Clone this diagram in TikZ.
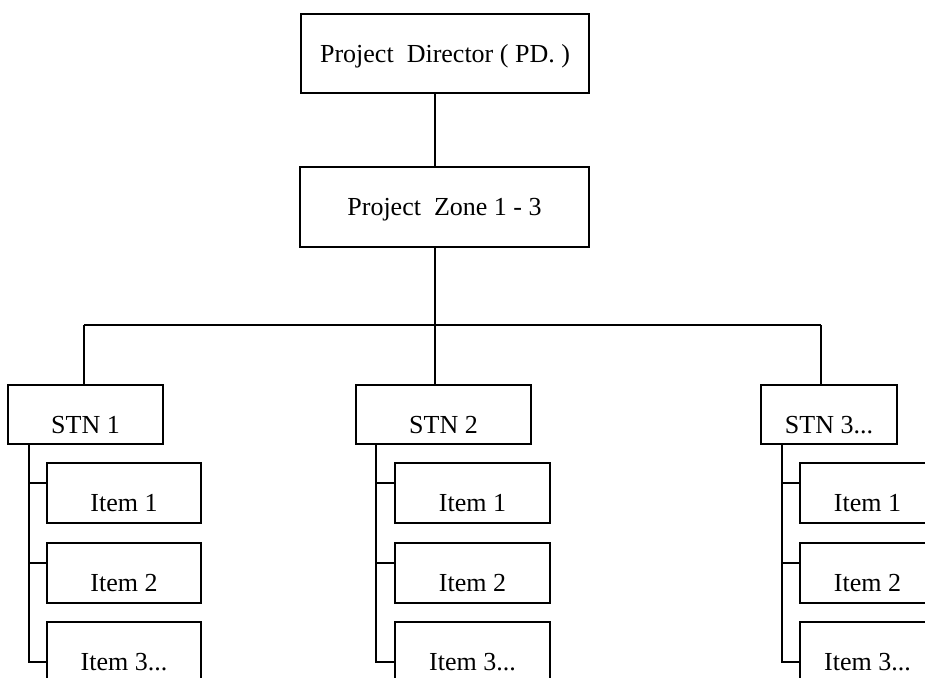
\documentclass[tikz,border=0pt]{standalone}
\usepackage{fontspec}
\setmainfont{Liberation Serif}
\begin{document}
\begin{tikzpicture}[x=1pt,y=-1pt,
  box/.style={draw, line width=2.2pt, rectangle, inner sep=0pt,
    font=\fontsize{26}{30}\selectfont},
  level/.style={box, text height=17.2pt, text depth=0pt},
  low/.style={box, text height=37.2pt, text depth=0pt},
  wire/.style={line width=2.2pt}]
\useasboundingbox (0,0) rectangle (925,677);

% top of the chart
\node[level, minimum width=288pt, minimum height=79pt] (pd) at (445,53.5) {Project\ \ Director ( PD. )};
\node[level, minimum width=289pt, minimum height=80pt] (zone) at (444.5,207) {Project\ \ Zone 1 - 3};

% stations
\node[low, minimum width=155pt, minimum height=59pt] (stn1) at (85.5,414.5) {STN 1};
\node[low, minimum width=175pt, minimum height=59pt] (stn2) at (443.5,414.5) {STN 2};
\node[low, minimum width=136pt, minimum height=59pt] (stn3) at (829,414.5) {STN 3...};

% distribution bus
\coordinate (trunk) at (435,325);
\coordinate (b1) at (84,325);
\coordinate (b3) at (821,325);
\draw[wire] (pd.south -| trunk) -- (zone.north -| trunk);
\draw[wire] (zone.south -| trunk) -- (trunk);
\draw[wire] (b1) -- (b3);
\draw[wire] (b1) -- (b1 |- stn1.north);
\draw[wire] (trunk) -- (trunk |- stn2.north);
\draw[wire] (b3) -- (b3 |- stn3.north);

% items under each station
\foreach \c/\sx/\ix/\iw in {1/29/124/154, 2/376/472.5/155, 3/782/867.5/135} {
  \node[low, minimum width=\iw pt, minimum height=60pt] (i\c a) at (\ix,493) {Item 1};
  \node[low, minimum width=\iw pt, minimum height=60pt] (i\c b) at (\ix,573) {Item 2};
  \node[low, minimum width=\iw pt, minimum height=60pt] (i\c c) at (\ix,652) {Item 3...};
  \coordinate (k\c a) at (\sx,483);
  \coordinate (k\c b) at (\sx,563);
  \coordinate (k\c c) at (\sx,662);
  \draw[wire] (stn\c.south -| k\c a) -- (k\c c) -- (k\c c -| i\c c.west);
  \draw[wire] (k\c a) -- (k\c a -| i\c a.west);
  \draw[wire] (k\c b) -- (k\c b -| i\c b.west);
}
\end{tikzpicture}
\end{document}
